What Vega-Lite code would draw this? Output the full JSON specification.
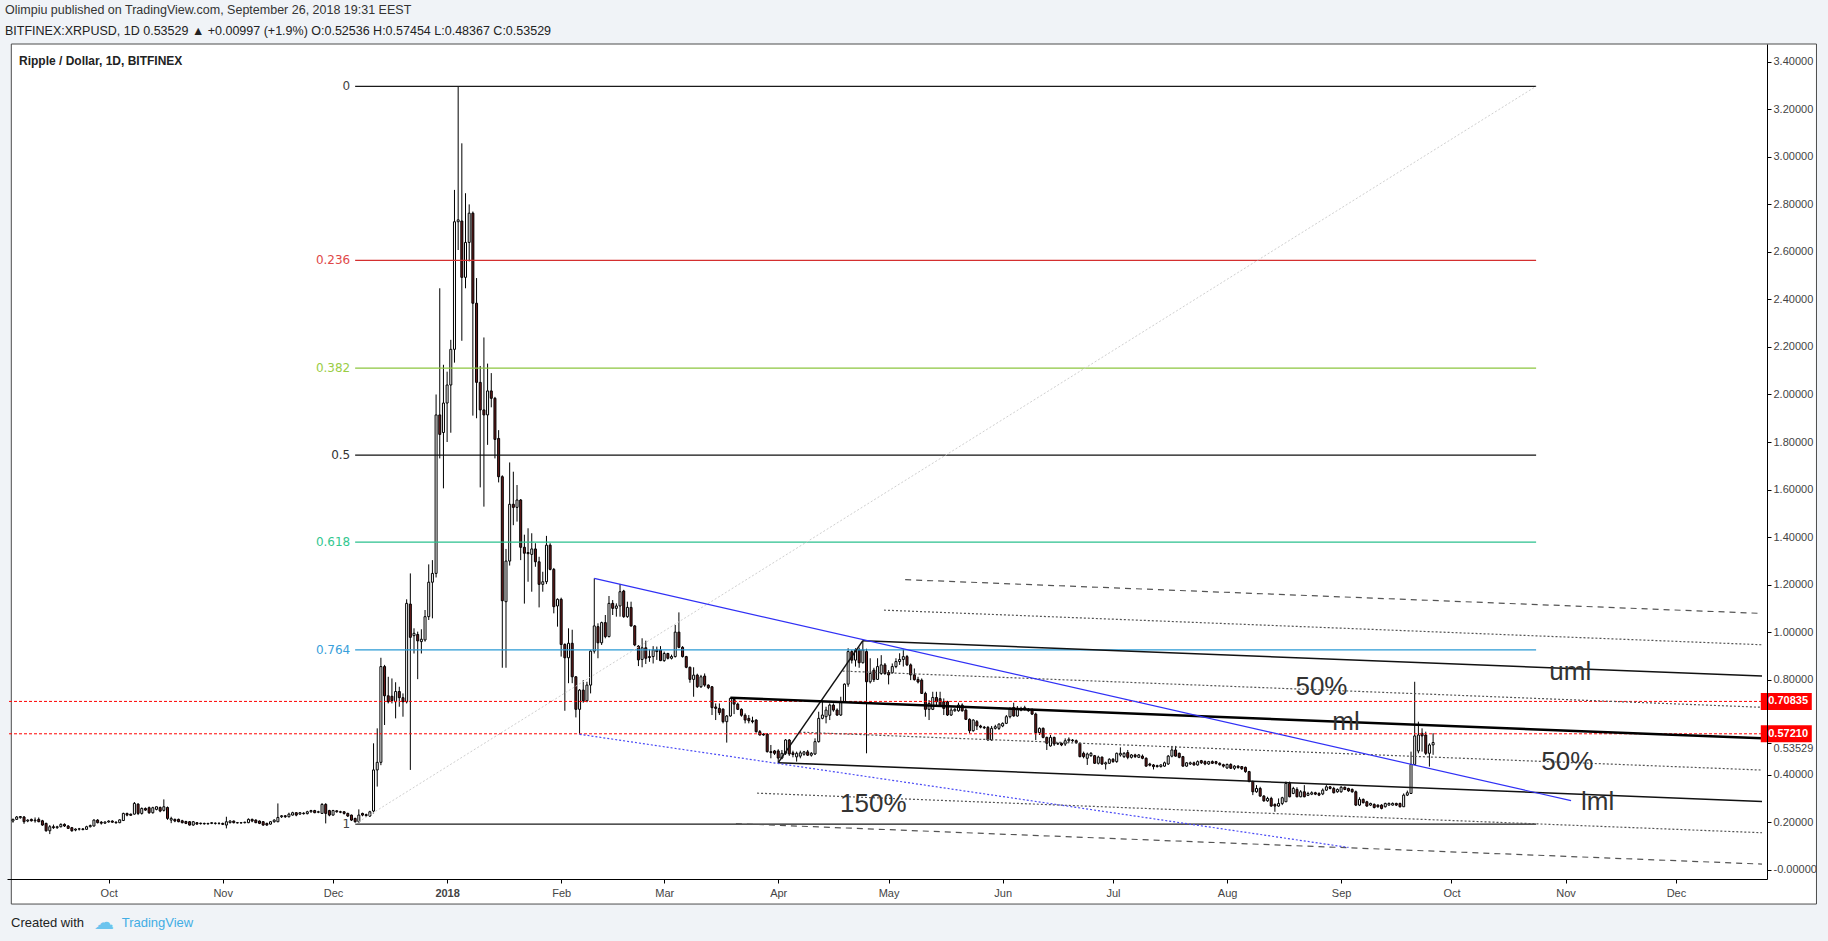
{
  "$schema": "https://vega.github.io/schema/vega-lite/v6.json",
  "width": 1760,
  "height": 835,
  "autosize": {"type": "none"},
  "padding": {"left": 7, "top": 44, "right": 61, "bottom": 62},
  "background": "#f0f3f7",
  "title": {
    "text": "Olimpiu published on TradingView.com, September 26, 2018 19:31 EEST",
    "subtitle": "BITFINEX:XRPUSD, 1D  0.53529 ▲ +0.00997 (+1.9%)  O:0.52536  H:0.57454  L:0.48367  C:0.53529",
    "anchor": "start",
    "frame": "group",
    "offset": 6,
    "dx": -2,
    "font": "Liberation Sans",
    "fontSize": 12.5,
    "fontWeight": "normal",
    "color": "#333333",
    "subtitleFont": "Liberation Sans",
    "subtitleFontSize": 12.5,
    "subtitleColor": "#222222",
    "subtitlePadding": 9
  },
  "datasets": {
    "candles": [
      {"d":"2017-09-05","o":0.205,"h":0.215,"l":0.198,"c":0.212},
      {"d":"2017-09-06","o":0.212,"h":0.226,"l":0.21,"c":0.222},
      {"d":"2017-09-07","o":0.219,"h":0.226,"l":0.215,"c":0.224},
      {"d":"2017-09-08","o":0.222,"h":0.226,"l":0.193,"c":0.202},
      {"d":"2017-09-09","o":0.205,"h":0.212,"l":0.2,"c":0.209},
      {"d":"2017-09-10","o":0.212,"h":0.215,"l":0.203,"c":0.206},
      {"d":"2017-09-11","o":0.206,"h":0.22,"l":0.198,"c":0.209},
      {"d":"2017-09-12","o":0.212,"h":0.22,"l":0.2,"c":0.202},
      {"d":"2017-09-13","o":0.206,"h":0.21,"l":0.185,"c":0.188},
      {"d":"2017-09-14","o":0.195,"h":0.198,"l":0.16,"c":0.164},
      {"d":"2017-09-15","o":0.164,"h":0.188,"l":0.15,"c":0.181},
      {"d":"2017-09-16","o":0.181,"h":0.19,"l":0.172,"c":0.177},
      {"d":"2017-09-17","o":0.177,"h":0.185,"l":0.172,"c":0.181},
      {"d":"2017-09-18","o":0.181,"h":0.195,"l":0.178,"c":0.191},
      {"d":"2017-09-19","o":0.191,"h":0.195,"l":0.18,"c":0.184},
      {"d":"2017-09-20","o":0.184,"h":0.188,"l":0.172,"c":0.174},
      {"d":"2017-09-21","o":0.177,"h":0.18,"l":0.16,"c":0.164},
      {"d":"2017-09-22","o":0.167,"h":0.174,"l":0.162,"c":0.171},
      {"d":"2017-09-23","o":0.171,"h":0.176,"l":0.165,"c":0.172},
      {"d":"2017-09-24","o":0.172,"h":0.175,"l":0.166,"c":0.169},
      {"d":"2017-09-25","o":0.17,"h":0.185,"l":0.168,"c":0.181},
      {"d":"2017-09-26","o":0.181,"h":0.19,"l":0.178,"c":0.186},
      {"d":"2017-09-27","o":0.184,"h":0.212,"l":0.182,"c":0.209},
      {"d":"2017-09-28","o":0.209,"h":0.213,"l":0.195,"c":0.198},
      {"d":"2017-09-29","o":0.2,"h":0.205,"l":0.19,"c":0.196},
      {"d":"2017-09-30","o":0.196,"h":0.203,"l":0.193,"c":0.201},
      {"d":"2017-10-01","o":0.201,"h":0.208,"l":0.198,"c":0.205},
      {"d":"2017-10-02","o":0.205,"h":0.208,"l":0.198,"c":0.2},
      {"d":"2017-10-03","o":0.2,"h":0.204,"l":0.195,"c":0.197},
      {"d":"2017-10-04","o":0.198,"h":0.212,"l":0.196,"c":0.21},
      {"d":"2017-10-05","o":0.207,"h":0.24,"l":0.205,"c":0.237},
      {"d":"2017-10-06","o":0.237,"h":0.24,"l":0.225,"c":0.23},
      {"d":"2017-10-07","o":0.234,"h":0.236,"l":0.228,"c":0.229},
      {"d":"2017-10-08","o":0.234,"h":0.285,"l":0.232,"c":0.279},
      {"d":"2017-10-09","o":0.276,"h":0.28,"l":0.23,"c":0.237},
      {"d":"2017-10-10","o":0.237,"h":0.262,"l":0.232,"c":0.258},
      {"d":"2017-10-11","o":0.258,"h":0.262,"l":0.248,"c":0.251},
      {"d":"2017-10-12","o":0.261,"h":0.266,"l":0.235,"c":0.24},
      {"d":"2017-10-13","o":0.24,"h":0.265,"l":0.236,"c":0.261},
      {"d":"2017-10-14","o":0.254,"h":0.266,"l":0.25,"c":0.265},
      {"d":"2017-10-15","o":0.262,"h":0.266,"l":0.242,"c":0.247},
      {"d":"2017-10-16","o":0.25,"h":0.296,"l":0.245,"c":0.265},
      {"d":"2017-10-17","o":0.262,"h":0.266,"l":0.21,"c":0.216},
      {"d":"2017-10-18","o":0.209,"h":0.223,"l":0.196,"c":0.216},
      {"d":"2017-10-19","o":0.212,"h":0.215,"l":0.2,"c":0.205},
      {"d":"2017-10-20","o":0.212,"h":0.215,"l":0.2,"c":0.202},
      {"d":"2017-10-21","o":0.206,"h":0.21,"l":0.195,"c":0.198},
      {"d":"2017-10-22","o":0.203,"h":0.206,"l":0.192,"c":0.195},
      {"d":"2017-10-23","o":0.202,"h":0.205,"l":0.186,"c":0.188},
      {"d":"2017-10-24","o":0.188,"h":0.205,"l":0.185,"c":0.202},
      {"d":"2017-10-25","o":0.198,"h":0.2,"l":0.19,"c":0.192},
      {"d":"2017-10-26","o":0.196,"h":0.198,"l":0.19,"c":0.194},
      {"d":"2017-10-27","o":0.195,"h":0.198,"l":0.19,"c":0.193},
      {"d":"2017-10-28","o":0.193,"h":0.197,"l":0.19,"c":0.195},
      {"d":"2017-10-29","o":0.195,"h":0.2,"l":0.192,"c":0.198},
      {"d":"2017-10-30","o":0.196,"h":0.199,"l":0.19,"c":0.195},
      {"d":"2017-10-31","o":0.195,"h":0.198,"l":0.19,"c":0.196},
      {"d":"2017-11-01","o":0.195,"h":0.198,"l":0.188,"c":0.191},
      {"d":"2017-11-02","o":0.188,"h":0.223,"l":0.174,"c":0.202},
      {"d":"2017-11-03","o":0.198,"h":0.208,"l":0.195,"c":0.205},
      {"d":"2017-11-04","o":0.205,"h":0.207,"l":0.195,"c":0.198},
      {"d":"2017-11-05","o":0.198,"h":0.201,"l":0.195,"c":0.197},
      {"d":"2017-11-06","o":0.197,"h":0.2,"l":0.194,"c":0.198},
      {"d":"2017-11-07","o":0.198,"h":0.202,"l":0.195,"c":0.2},
      {"d":"2017-11-08","o":0.198,"h":0.216,"l":0.196,"c":0.212},
      {"d":"2017-11-09","o":0.212,"h":0.215,"l":0.2,"c":0.205},
      {"d":"2017-11-10","o":0.209,"h":0.212,"l":0.196,"c":0.198},
      {"d":"2017-11-11","o":0.205,"h":0.207,"l":0.192,"c":0.195},
      {"d":"2017-11-12","o":0.202,"h":0.205,"l":0.185,"c":0.188},
      {"d":"2017-11-13","o":0.195,"h":0.198,"l":0.185,"c":0.188},
      {"d":"2017-11-14","o":0.192,"h":0.204,"l":0.19,"c":0.202},
      {"d":"2017-11-15","o":0.202,"h":0.212,"l":0.198,"c":0.209},
      {"d":"2017-11-16","o":0.202,"h":0.279,"l":0.2,"c":0.22},
      {"d":"2017-11-17","o":0.223,"h":0.23,"l":0.218,"c":0.227},
      {"d":"2017-11-18","o":0.227,"h":0.23,"l":0.218,"c":0.223},
      {"d":"2017-11-19","o":0.223,"h":0.24,"l":0.22,"c":0.234},
      {"d":"2017-11-20","o":0.23,"h":0.244,"l":0.228,"c":0.24},
      {"d":"2017-11-21","o":0.24,"h":0.242,"l":0.225,"c":0.23},
      {"d":"2017-11-22","o":0.234,"h":0.242,"l":0.232,"c":0.24},
      {"d":"2017-11-23","o":0.238,"h":0.242,"l":0.232,"c":0.236},
      {"d":"2017-11-24","o":0.236,"h":0.248,"l":0.233,"c":0.244},
      {"d":"2017-11-25","o":0.244,"h":0.252,"l":0.24,"c":0.249},
      {"d":"2017-11-26","o":0.249,"h":0.252,"l":0.238,"c":0.24},
      {"d":"2017-11-27","o":0.242,"h":0.248,"l":0.238,"c":0.244},
      {"d":"2017-11-28","o":0.237,"h":0.28,"l":0.235,"c":0.275},
      {"d":"2017-11-29","o":0.275,"h":0.28,"l":0.195,"c":0.237},
      {"d":"2017-11-30","o":0.249,"h":0.252,"l":0.225,"c":0.23},
      {"d":"2017-12-01","o":0.23,"h":0.252,"l":0.228,"c":0.249},
      {"d":"2017-12-02","o":0.248,"h":0.25,"l":0.24,"c":0.244},
      {"d":"2017-12-03","o":0.244,"h":0.248,"l":0.238,"c":0.242},
      {"d":"2017-12-04","o":0.244,"h":0.246,"l":0.232,"c":0.237},
      {"d":"2017-12-05","o":0.237,"h":0.24,"l":0.222,"c":0.226},
      {"d":"2017-12-06","o":0.23,"h":0.232,"l":0.205,"c":0.209},
      {"d":"2017-12-07","o":0.216,"h":0.219,"l":0.198,"c":0.202},
      {"d":"2017-12-08","o":0.202,"h":0.254,"l":0.198,"c":0.23},
      {"d":"2017-12-09","o":0.237,"h":0.24,"l":0.225,"c":0.23},
      {"d":"2017-12-10","o":0.232,"h":0.236,"l":0.222,"c":0.228},
      {"d":"2017-12-11","o":0.226,"h":0.248,"l":0.222,"c":0.244},
      {"d":"2017-12-12","o":0.247,"h":0.532,"l":0.237,"c":0.42},
      {"d":"2017-12-13","o":0.42,"h":0.595,"l":0.35,"c":0.452},
      {"d":"2017-12-14","o":0.452,"h":0.892,"l":0.44,"c":0.855},
      {"d":"2017-12-15","o":0.855,"h":0.862,"l":0.609,"c":0.732},
      {"d":"2017-12-16","o":0.732,"h":0.812,"l":0.7,"c":0.707},
      {"d":"2017-12-17","o":0.73,"h":0.805,"l":0.7,"c":0.712},
      {"d":"2017-12-18","o":0.707,"h":0.789,"l":0.637,"c":0.75},
      {"d":"2017-12-19","o":0.75,"h":0.77,"l":0.686,"c":0.724},
      {"d":"2017-12-20","o":0.724,"h":0.742,"l":0.644,"c":0.707},
      {"d":"2017-12-21","o":0.707,"h":1.138,"l":0.7,"c":1.121},
      {"d":"2017-12-22","o":1.118,"h":1.247,"l":0.42,"c":0.978},
      {"d":"2017-12-23","o":0.985,"h":1.016,"l":0.91,"c":0.995},
      {"d":"2017-12-24","o":0.99,"h":1.002,"l":0.802,"c":0.963},
      {"d":"2017-12-25","o":0.96,"h":1.012,"l":0.91,"c":0.97},
      {"d":"2017-12-26","o":0.967,"h":1.093,"l":0.96,"c":1.065},
      {"d":"2017-12-27","o":1.065,"h":1.285,"l":1.051,"c":1.21},
      {"d":"2017-12-28","o":1.21,"h":1.303,"l":1.058,"c":1.247},
      {"d":"2017-12-29","o":1.247,"h":2.0,"l":1.23,"c":1.914},
      {"d":"2017-12-30","o":1.914,"h":2.447,"l":1.731,"c":1.832},
      {"d":"2017-12-31","o":1.84,"h":2.125,"l":1.605,"c":1.964},
      {"d":"2018-01-01","o":1.964,"h":2.096,"l":1.8,"c":2.04},
      {"d":"2018-01-02","o":2.04,"h":2.23,"l":1.839,"c":2.19},
      {"d":"2018-01-03","o":2.19,"h":2.861,"l":2.134,"c":2.727},
      {"d":"2018-01-04","o":2.727,"h":3.297,"l":2.608,"c":2.735},
      {"d":"2018-01-05","o":2.73,"h":3.057,"l":2.226,"c":2.493},
      {"d":"2018-01-06","o":2.493,"h":2.847,"l":2.447,"c":2.64},
      {"d":"2018-01-07","o":2.64,"h":2.8,"l":2.56,"c":2.763},
      {"d":"2018-01-08","o":2.763,"h":2.77,"l":1.911,"c":2.384},
      {"d":"2018-01-09","o":2.384,"h":2.49,"l":1.9,"c":2.051},
      {"d":"2018-01-10","o":2.051,"h":2.12,"l":1.609,"c":1.935},
      {"d":"2018-01-11","o":1.935,"h":2.24,"l":1.528,"c":1.914},
      {"d":"2018-01-12","o":1.914,"h":2.13,"l":1.788,"c":2.015},
      {"d":"2018-01-13","o":2.015,"h":2.09,"l":1.946,"c":1.984},
      {"d":"2018-01-14","o":1.984,"h":1.99,"l":1.731,"c":1.811},
      {"d":"2018-01-15","o":1.815,"h":1.85,"l":1.63,"c":1.654},
      {"d":"2018-01-16","o":1.654,"h":1.66,"l":0.85,"c":1.132},
      {"d":"2018-01-17","o":1.128,"h":1.35,"l":0.85,"c":1.299},
      {"d":"2018-01-18","o":1.299,"h":1.714,"l":1.28,"c":1.538},
      {"d":"2018-01-19","o":1.538,"h":1.675,"l":1.45,"c":1.525},
      {"d":"2018-01-20","o":1.525,"h":1.619,"l":1.465,"c":1.556},
      {"d":"2018-01-21","o":1.556,"h":1.56,"l":1.303,"c":1.357},
      {"d":"2018-01-22","o":1.357,"h":1.41,"l":1.12,"c":1.332},
      {"d":"2018-01-23","o":1.335,"h":1.437,"l":1.212,"c":1.33},
      {"d":"2018-01-24","o":1.327,"h":1.416,"l":1.17,"c":1.35},
      {"d":"2018-01-25","o":1.35,"h":1.374,"l":1.275,"c":1.296},
      {"d":"2018-01-26","o":1.296,"h":1.317,"l":1.104,"c":1.201},
      {"d":"2018-01-27","o":1.201,"h":1.254,"l":1.17,"c":1.212},
      {"d":"2018-01-28","o":1.212,"h":1.405,"l":1.202,"c":1.366},
      {"d":"2018-01-29","o":1.366,"h":1.374,"l":1.26,"c":1.264},
      {"d":"2018-01-30","o":1.264,"h":1.27,"l":1.079,"c":1.107},
      {"d":"2018-01-31","o":1.11,"h":1.142,"l":1.023,"c":1.138},
      {"d":"2018-02-01","o":1.138,"h":1.145,"l":0.897,"c":0.948},
      {"d":"2018-02-02","o":0.948,"h":0.953,"l":0.669,"c":0.892},
      {"d":"2018-02-03","o":0.892,"h":1.016,"l":0.785,"c":0.953},
      {"d":"2018-02-04","o":0.953,"h":1.01,"l":0.785,"c":0.812},
      {"d":"2018-02-05","o":0.812,"h":0.815,"l":0.641,"c":0.675},
      {"d":"2018-02-06","o":0.675,"h":0.76,"l":0.57,"c":0.756},
      {"d":"2018-02-07","o":0.756,"h":0.798,"l":0.703,"c":0.711},
      {"d":"2018-02-08","o":0.711,"h":0.791,"l":0.705,"c":0.777},
      {"d":"2018-02-09","o":0.777,"h":0.924,"l":0.742,"c":0.92},
      {"d":"2018-02-10","o":0.92,"h":1.226,"l":0.91,"c":1.026},
      {"d":"2018-02-11","o":1.023,"h":1.037,"l":0.89,"c":0.955},
      {"d":"2018-02-12","o":0.955,"h":1.044,"l":0.946,"c":1.04},
      {"d":"2018-02-13","o":1.04,"h":1.072,"l":0.974,"c":0.981},
      {"d":"2018-02-14","o":0.981,"h":1.152,"l":0.978,"c":1.121},
      {"d":"2018-02-15","o":1.121,"h":1.135,"l":1.072,"c":1.1},
      {"d":"2018-02-16","o":1.1,"h":1.121,"l":1.065,"c":1.11},
      {"d":"2018-02-17","o":1.11,"h":1.2025,"l":1.065,"c":1.17},
      {"d":"2018-02-18","o":1.173,"h":1.178,"l":1.06,"c":1.065},
      {"d":"2018-02-19","o":1.065,"h":1.128,"l":1.06,"c":1.104},
      {"d":"2018-02-20","o":1.104,"h":1.128,"l":1.023,"c":1.026},
      {"d":"2018-02-21","o":1.026,"h":1.03,"l":0.941,"c":0.946},
      {"d":"2018-02-22","o":0.941,"h":0.945,"l":0.857,"c":0.883},
      {"d":"2018-02-23","o":0.885,"h":0.974,"l":0.852,"c":0.934},
      {"d":"2018-02-24","o":0.934,"h":0.964,"l":0.866,"c":0.89},
      {"d":"2018-02-25","o":0.897,"h":0.927,"l":0.875,"c":0.893},
      {"d":"2018-02-26","o":0.897,"h":0.941,"l":0.868,"c":0.925},
      {"d":"2018-02-27","o":0.925,"h":0.939,"l":0.883,"c":0.918},
      {"d":"2018-02-28","o":0.925,"h":0.941,"l":0.878,"c":0.88},
      {"d":"2018-03-01","o":0.88,"h":0.918,"l":0.875,"c":0.91},
      {"d":"2018-03-02","o":0.91,"h":0.913,"l":0.885,"c":0.89},
      {"d":"2018-03-03","o":0.89,"h":0.905,"l":0.885,"c":0.897},
      {"d":"2018-03-04","o":0.897,"h":1.03,"l":0.893,"c":1.0},
      {"d":"2018-03-05","o":1.0,"h":1.083,"l":0.932,"c":0.936},
      {"d":"2018-03-06","o":0.936,"h":0.941,"l":0.893,"c":0.897},
      {"d":"2018-03-07","o":0.897,"h":0.9,"l":0.848,"c":0.852},
      {"d":"2018-03-08","o":0.852,"h":0.855,"l":0.787,"c":0.801},
      {"d":"2018-03-09","o":0.801,"h":0.852,"l":0.728,"c":0.819},
      {"d":"2018-03-10","o":0.819,"h":0.825,"l":0.765,"c":0.77},
      {"d":"2018-03-11","o":0.77,"h":0.82,"l":0.765,"c":0.812},
      {"d":"2018-03-12","o":0.815,"h":0.826,"l":0.77,"c":0.777},
      {"d":"2018-03-13","o":0.777,"h":0.78,"l":0.76,"c":0.766},
      {"d":"2018-03-14","o":0.77,"h":0.773,"l":0.651,"c":0.682},
      {"d":"2018-03-15","o":0.685,"h":0.7,"l":0.63,"c":0.679},
      {"d":"2018-03-16","o":0.679,"h":0.7,"l":0.651,"c":0.661},
      {"d":"2018-03-17","o":0.676,"h":0.679,"l":0.616,"c":0.623},
      {"d":"2018-03-18","o":0.623,"h":0.651,"l":0.535,"c":0.647},
      {"d":"2018-03-19","o":0.647,"h":0.725,"l":0.644,"c":0.721},
      {"d":"2018-03-20","o":0.717,"h":0.725,"l":0.655,"c":0.697},
      {"d":"2018-03-21","o":0.697,"h":0.703,"l":0.672,"c":0.675},
      {"d":"2018-03-22","o":0.675,"h":0.679,"l":0.644,"c":0.65},
      {"d":"2018-03-23","o":0.65,"h":0.658,"l":0.616,"c":0.63},
      {"d":"2018-03-24","o":0.637,"h":0.651,"l":0.616,"c":0.627},
      {"d":"2018-03-25","o":0.627,"h":0.644,"l":0.616,"c":0.623},
      {"d":"2018-03-26","o":0.63,"h":0.633,"l":0.577,"c":0.581},
      {"d":"2018-03-27","o":0.581,"h":0.588,"l":0.565,"c":0.567},
      {"d":"2018-03-28","o":0.571,"h":0.574,"l":0.564,"c":0.567},
      {"d":"2018-03-29","o":0.571,"h":0.574,"l":0.493,"c":0.497},
      {"d":"2018-03-30","o":0.497,"h":0.525,"l":0.469,"c":0.493},
      {"d":"2018-03-31","o":0.5,"h":0.504,"l":0.483,"c":0.49},
      {"d":"2018-04-01","o":0.5,"h":0.507,"l":0.45,"c":0.47},
      {"d":"2018-04-02","o":0.47,"h":0.504,"l":0.465,"c":0.49},
      {"d":"2018-04-03","o":0.49,"h":0.55,"l":0.483,"c":0.546},
      {"d":"2018-04-04","o":0.546,"h":0.55,"l":0.479,"c":0.487},
      {"d":"2018-04-05","o":0.492,"h":0.501,"l":0.473,"c":0.485},
      {"d":"2018-04-06","o":0.475,"h":0.497,"l":0.455,"c":0.49},
      {"d":"2018-04-07","o":0.478,"h":0.501,"l":0.469,"c":0.492},
      {"d":"2018-04-08","o":0.486,"h":0.5,"l":0.48,"c":0.496},
      {"d":"2018-04-09","o":0.496,"h":0.504,"l":0.479,"c":0.482},
      {"d":"2018-04-10","o":0.482,"h":0.495,"l":0.476,"c":0.49},
      {"d":"2018-04-11","o":0.487,"h":0.553,"l":0.483,"c":0.539},
      {"d":"2018-04-12","o":0.539,"h":0.665,"l":0.535,"c":0.637},
      {"d":"2018-04-13","o":0.637,"h":0.707,"l":0.633,"c":0.651},
      {"d":"2018-04-14","o":0.644,"h":0.686,"l":0.616,"c":0.672},
      {"d":"2018-04-15","o":0.65,"h":0.7,"l":0.63,"c":0.693},
      {"d":"2018-04-16","o":0.693,"h":0.7,"l":0.665,"c":0.672},
      {"d":"2018-04-17","o":0.672,"h":0.679,"l":0.647,"c":0.651},
      {"d":"2018-04-18","o":0.651,"h":0.728,"l":0.647,"c":0.707},
      {"d":"2018-04-19","o":0.707,"h":0.784,"l":0.703,"c":0.781},
      {"d":"2018-04-20","o":0.781,"h":0.932,"l":0.77,"c":0.918},
      {"d":"2018-04-21","o":0.918,"h":0.925,"l":0.868,"c":0.882},
      {"d":"2018-04-22","o":0.882,"h":0.932,"l":0.855,"c":0.925},
      {"d":"2018-04-23","o":0.925,"h":0.935,"l":0.85,"c":0.871},
      {"d":"2018-04-24","o":0.871,"h":0.964,"l":0.868,"c":0.925},
      {"d":"2018-04-25","o":0.918,"h":0.93,"l":0.49,"c":0.791},
      {"d":"2018-04-26","o":0.791,"h":0.89,"l":0.784,"c":0.826},
      {"d":"2018-04-27","o":0.84,"h":0.85,"l":0.79,"c":0.8},
      {"d":"2018-04-28","o":0.801,"h":0.89,"l":0.8,"c":0.855},
      {"d":"2018-04-29","o":0.826,"h":0.903,"l":0.82,"c":0.862},
      {"d":"2018-04-30","o":0.862,"h":0.87,"l":0.82,"c":0.826},
      {"d":"2018-05-01","o":0.83,"h":0.84,"l":0.78,"c":0.82},
      {"d":"2018-05-02","o":0.829,"h":0.868,"l":0.826,"c":0.855},
      {"d":"2018-05-03","o":0.855,"h":0.89,"l":0.848,"c":0.876},
      {"d":"2018-05-04","o":0.876,"h":0.911,"l":0.862,"c":0.885},
      {"d":"2018-05-05","o":0.885,"h":0.927,"l":0.855,"c":0.897},
      {"d":"2018-05-06","o":0.897,"h":0.904,"l":0.857,"c":0.862},
      {"d":"2018-05-07","o":0.862,"h":0.868,"l":0.798,"c":0.82},
      {"d":"2018-05-08","o":0.82,"h":0.847,"l":0.796,"c":0.8},
      {"d":"2018-05-09","o":0.801,"h":0.812,"l":0.784,"c":0.79},
      {"d":"2018-05-10","o":0.798,"h":0.805,"l":0.74,"c":0.742},
      {"d":"2018-05-11","o":0.742,"h":0.749,"l":0.644,"c":0.675},
      {"d":"2018-05-12","o":0.675,"h":0.714,"l":0.63,"c":0.7},
      {"d":"2018-05-13","o":0.675,"h":0.749,"l":0.672,"c":0.725},
      {"d":"2018-05-14","o":0.725,"h":0.749,"l":0.693,"c":0.707},
      {"d":"2018-05-15","o":0.72,"h":0.749,"l":0.689,"c":0.69},
      {"d":"2018-05-16","o":0.707,"h":0.721,"l":0.651,"c":0.679},
      {"d":"2018-05-17","o":0.707,"h":0.711,"l":0.647,"c":0.651},
      {"d":"2018-05-18","o":0.651,"h":0.683,"l":0.647,"c":0.672},
      {"d":"2018-05-19","o":0.669,"h":0.68,"l":0.665,"c":0.675},
      {"d":"2018-05-20","o":0.669,"h":0.703,"l":0.665,"c":0.693},
      {"d":"2018-05-21","o":0.693,"h":0.7,"l":0.665,"c":0.669},
      {"d":"2018-05-22","o":0.672,"h":0.679,"l":0.63,"c":0.633},
      {"d":"2018-05-23","o":0.633,"h":0.637,"l":0.574,"c":0.585},
      {"d":"2018-05-24","o":0.585,"h":0.633,"l":0.581,"c":0.63},
      {"d":"2018-05-25","o":0.623,"h":0.63,"l":0.588,"c":0.605},
      {"d":"2018-05-26","o":0.605,"h":0.61,"l":0.595,"c":0.6},
      {"d":"2018-05-27","o":0.6,"h":0.605,"l":0.592,"c":0.597},
      {"d":"2018-05-28","o":0.599,"h":0.605,"l":0.543,"c":0.546},
      {"d":"2018-05-29","o":0.546,"h":0.605,"l":0.543,"c":0.595},
      {"d":"2018-05-30","o":0.595,"h":0.61,"l":0.59,"c":0.602},
      {"d":"2018-05-31","o":0.595,"h":0.616,"l":0.588,"c":0.613},
      {"d":"2018-06-01","o":0.605,"h":0.62,"l":0.6,"c":0.616},
      {"d":"2018-06-02","o":0.616,"h":0.651,"l":0.613,"c":0.644},
      {"d":"2018-06-03","o":0.644,"h":0.683,"l":0.637,"c":0.679},
      {"d":"2018-06-04","o":0.683,"h":0.703,"l":0.644,"c":0.647},
      {"d":"2018-06-05","o":0.647,"h":0.689,"l":0.644,"c":0.679},
      {"d":"2018-06-06","o":0.672,"h":0.686,"l":0.667,"c":0.679},
      {"d":"2018-06-07","o":0.675,"h":0.69,"l":0.67,"c":0.682},
      {"d":"2018-06-08","o":0.675,"h":0.68,"l":0.665,"c":0.669},
      {"d":"2018-06-09","o":0.672,"h":0.679,"l":0.651,"c":0.655},
      {"d":"2018-06-10","o":0.655,"h":0.661,"l":0.546,"c":0.577},
      {"d":"2018-06-11","o":0.577,"h":0.599,"l":0.567,"c":0.595},
      {"d":"2018-06-12","o":0.595,"h":0.599,"l":0.553,"c":0.557},
      {"d":"2018-06-13","o":0.557,"h":0.56,"l":0.504,"c":0.532},
      {"d":"2018-06-14","o":0.521,"h":0.567,"l":0.518,"c":0.557},
      {"d":"2018-06-15","o":0.557,"h":0.56,"l":0.521,"c":0.529},
      {"d":"2018-06-16","o":0.529,"h":0.535,"l":0.525,"c":0.532},
      {"d":"2018-06-17","o":0.532,"h":0.535,"l":0.52,"c":0.525},
      {"d":"2018-06-18","o":0.529,"h":0.553,"l":0.521,"c":0.543},
      {"d":"2018-06-19","o":0.543,"h":0.557,"l":0.535,"c":0.549},
      {"d":"2018-06-20","o":0.546,"h":0.55,"l":0.538,"c":0.543},
      {"d":"2018-06-21","o":0.543,"h":0.548,"l":0.53,"c":0.535},
      {"d":"2018-06-22","o":0.532,"h":0.535,"l":0.473,"c":0.476},
      {"d":"2018-06-23","o":0.49,"h":0.497,"l":0.469,"c":0.476},
      {"d":"2018-06-24","o":0.469,"h":0.493,"l":0.441,"c":0.487},
      {"d":"2018-06-25","o":0.48,"h":0.495,"l":0.475,"c":0.49},
      {"d":"2018-06-26","o":0.48,"h":0.483,"l":0.445,"c":0.448},
      {"d":"2018-06-27","o":0.448,"h":0.48,"l":0.443,"c":0.474},
      {"d":"2018-06-28","o":0.474,"h":0.476,"l":0.441,"c":0.445},
      {"d":"2018-06-29","o":0.445,"h":0.455,"l":0.422,"c":0.45},
      {"d":"2018-06-30","o":0.448,"h":0.469,"l":0.445,"c":0.465},
      {"d":"2018-07-01","o":0.465,"h":0.47,"l":0.45,"c":0.455},
      {"d":"2018-07-02","o":0.455,"h":0.493,"l":0.45,"c":0.49},
      {"d":"2018-07-03","o":0.483,"h":0.515,"l":0.476,"c":0.49},
      {"d":"2018-07-04","o":0.476,"h":0.495,"l":0.47,"c":0.49},
      {"d":"2018-07-05","o":0.493,"h":0.504,"l":0.465,"c":0.473},
      {"d":"2018-07-06","o":0.473,"h":0.487,"l":0.468,"c":0.483},
      {"d":"2018-07-07","o":0.483,"h":0.488,"l":0.47,"c":0.476},
      {"d":"2018-07-08","o":0.473,"h":0.487,"l":0.47,"c":0.483},
      {"d":"2018-07-09","o":0.478,"h":0.485,"l":0.465,"c":0.469},
      {"d":"2018-07-10","o":0.469,"h":0.473,"l":0.434,"c":0.436},
      {"d":"2018-07-11","o":0.445,"h":0.45,"l":0.435,"c":0.44},
      {"d":"2018-07-12","o":0.441,"h":0.445,"l":0.422,"c":0.434},
      {"d":"2018-07-13","o":0.438,"h":0.442,"l":0.43,"c":0.434},
      {"d":"2018-07-14","o":0.434,"h":0.444,"l":0.43,"c":0.441},
      {"d":"2018-07-15","o":0.436,"h":0.455,"l":0.433,"c":0.45},
      {"d":"2018-07-16","o":0.445,"h":0.483,"l":0.441,"c":0.478},
      {"d":"2018-07-17","o":0.478,"h":0.521,"l":0.473,"c":0.504},
      {"d":"2018-07-18","o":0.504,"h":0.521,"l":0.476,"c":0.478},
      {"d":"2018-07-19","o":0.49,"h":0.493,"l":0.469,"c":0.473},
      {"d":"2018-07-20","o":0.476,"h":0.479,"l":0.434,"c":0.436},
      {"d":"2018-07-21","o":0.436,"h":0.453,"l":0.433,"c":0.45},
      {"d":"2018-07-22","o":0.445,"h":0.455,"l":0.441,"c":0.45},
      {"d":"2018-07-23","o":0.45,"h":0.455,"l":0.438,"c":0.441},
      {"d":"2018-07-24","o":0.441,"h":0.46,"l":0.438,"c":0.455},
      {"d":"2018-07-25","o":0.459,"h":0.462,"l":0.445,"c":0.45},
      {"d":"2018-07-26","o":0.455,"h":0.46,"l":0.44,"c":0.445},
      {"d":"2018-07-27","o":0.445,"h":0.458,"l":0.441,"c":0.455},
      {"d":"2018-07-28","o":0.455,"h":0.46,"l":0.445,"c":0.448},
      {"d":"2018-07-29","o":0.455,"h":0.458,"l":0.443,"c":0.448},
      {"d":"2018-07-30","o":0.448,"h":0.452,"l":0.438,"c":0.442},
      {"d":"2018-07-31","o":0.442,"h":0.446,"l":0.43,"c":0.436},
      {"d":"2018-08-01","o":0.428,"h":0.447,"l":0.425,"c":0.443},
      {"d":"2018-08-02","o":0.443,"h":0.448,"l":0.424,"c":0.427},
      {"d":"2018-08-03","o":0.427,"h":0.44,"l":0.42,"c":0.436},
      {"d":"2018-08-04","o":0.436,"h":0.44,"l":0.425,"c":0.43},
      {"d":"2018-08-05","o":0.434,"h":0.436,"l":0.42,"c":0.425},
      {"d":"2018-08-06","o":0.431,"h":0.434,"l":0.408,"c":0.413},
      {"d":"2018-08-07","o":0.413,"h":0.416,"l":0.368,"c":0.371},
      {"d":"2018-08-08","o":0.371,"h":0.375,"l":0.314,"c":0.328},
      {"d":"2018-08-09","o":0.328,"h":0.356,"l":0.324,"c":0.342},
      {"d":"2018-08-10","o":0.342,"h":0.349,"l":0.307,"c":0.31},
      {"d":"2018-08-11","o":0.31,"h":0.314,"l":0.286,"c":0.29},
      {"d":"2018-08-12","o":0.29,"h":0.307,"l":0.286,"c":0.3},
      {"d":"2018-08-13","o":0.3,"h":0.307,"l":0.265,"c":0.268},
      {"d":"2018-08-14","o":0.275,"h":0.279,"l":0.244,"c":0.268},
      {"d":"2018-08-15","o":0.268,"h":0.3,"l":0.265,"c":0.279},
      {"d":"2018-08-16","o":0.279,"h":0.307,"l":0.272,"c":0.303},
      {"d":"2018-08-17","o":0.286,"h":0.371,"l":0.286,"c":0.363},
      {"d":"2018-08-18","o":0.363,"h":0.371,"l":0.305,"c":0.307},
      {"d":"2018-08-19","o":0.321,"h":0.349,"l":0.318,"c":0.342},
      {"d":"2018-08-20","o":0.338,"h":0.347,"l":0.305,"c":0.307},
      {"d":"2018-08-21","o":0.307,"h":0.335,"l":0.305,"c":0.328},
      {"d":"2018-08-22","o":0.328,"h":0.356,"l":0.305,"c":0.307},
      {"d":"2018-08-23","o":0.313,"h":0.328,"l":0.31,"c":0.321},
      {"d":"2018-08-24","o":0.318,"h":0.33,"l":0.314,"c":0.324},
      {"d":"2018-08-25","o":0.324,"h":0.328,"l":0.314,"c":0.318},
      {"d":"2018-08-26","o":0.321,"h":0.326,"l":0.31,"c":0.314},
      {"d":"2018-08-27","o":0.319,"h":0.342,"l":0.314,"c":0.335},
      {"d":"2018-08-28","o":0.335,"h":0.356,"l":0.332,"c":0.349},
      {"d":"2018-08-29","o":0.349,"h":0.352,"l":0.338,"c":0.342},
      {"d":"2018-08-30","o":0.342,"h":0.349,"l":0.321,"c":0.324},
      {"d":"2018-08-31","o":0.328,"h":0.342,"l":0.324,"c":0.338},
      {"d":"2018-09-01","o":0.328,"h":0.352,"l":0.324,"c":0.347},
      {"d":"2018-09-02","o":0.347,"h":0.35,"l":0.335,"c":0.338},
      {"d":"2018-09-03","o":0.342,"h":0.345,"l":0.328,"c":0.332},
      {"d":"2018-09-04","o":0.338,"h":0.342,"l":0.324,"c":0.328},
      {"d":"2018-09-05","o":0.328,"h":0.333,"l":0.268,"c":0.272},
      {"d":"2018-09-06","o":0.272,"h":0.305,"l":0.268,"c":0.296},
      {"d":"2018-09-07","o":0.296,"h":0.3,"l":0.279,"c":0.282},
      {"d":"2018-09-08","o":0.286,"h":0.29,"l":0.265,"c":0.268},
      {"d":"2018-09-09","o":0.272,"h":0.282,"l":0.268,"c":0.279},
      {"d":"2018-09-10","o":0.275,"h":0.279,"l":0.258,"c":0.262},
      {"d":"2018-09-11","o":0.272,"h":0.275,"l":0.261,"c":0.265},
      {"d":"2018-09-12","o":0.272,"h":0.276,"l":0.254,"c":0.258},
      {"d":"2018-09-13","o":0.265,"h":0.282,"l":0.262,"c":0.279},
      {"d":"2018-09-14","o":0.272,"h":0.283,"l":0.27,"c":0.279},
      {"d":"2018-09-15","o":0.272,"h":0.283,"l":0.27,"c":0.279},
      {"d":"2018-09-16","o":0.279,"h":0.282,"l":0.268,"c":0.272},
      {"d":"2018-09-17","o":0.279,"h":0.282,"l":0.262,"c":0.265},
      {"d":"2018-09-18","o":0.265,"h":0.321,"l":0.265,"c":0.314},
      {"d":"2018-09-19","o":0.314,"h":0.333,"l":0.31,"c":0.324},
      {"d":"2018-09-20","o":0.321,"h":0.497,"l":0.319,"c":0.443},
      {"d":"2018-09-21","o":0.443,"h":0.791,"l":0.441,"c":0.563},
      {"d":"2018-09-22","o":0.5,"h":0.623,"l":0.49,"c":0.567},
      {"d":"2018-09-23","o":0.574,"h":0.595,"l":0.497,"c":0.563},
      {"d":"2018-09-24","o":0.567,"h":0.581,"l":0.483,"c":0.49},
      {"d":"2018-09-25","o":0.49,"h":0.532,"l":0.434,"c":0.525},
      {"d":"2018-09-26","o":0.52536,"h":0.57454,"l":0.48367,"c":0.53529}
    ],
    "fib": [
      {"lvl":"0","v":3.297},
      {"lvl":"0.236","v":2.5643},
      {"lvl":"0.382","v":2.111},
      {"lvl":"0.5","v":1.7447},
      {"lvl":"0.618","v":1.3784},
      {"lvl":"0.764","v":0.9251},
      {"lvl":"1","v":0.1923}
    ],
    "segs": [
      {"kind":"diag","x1":"2017-12-07","y1":0.1923,"x2":"2018-10-24","y2":3.297},
      {"kind":"pfm","x1":"2018-03-19","y1":0.724,"x2":"2018-12-24T09:36:00Z","y2":0.553},
      {"kind":"pf","x1":"2018-04-24","y1":0.964,"x2":"2018-12-24T09:36:00Z","y2":0.815},
      {"kind":"pf","x1":"2018-04-01","y1":0.4506,"x2":"2018-12-24T09:36:00Z","y2":0.2875},
      {"kind":"pf","x1":"2018-04-01","y1":0.4506,"x2":"2018-04-24","y2":0.964},
      {"kind":"pfdot","x1":"2018-04-18T12:00:00Z","y1":0.836,"x2":"2018-12-24T09:36:00Z","y2":0.6836},
      {"kind":"pfdot","x1":"2018-04-06T18:00:00Z","y1":0.579,"x2":"2018-12-24T09:36:00Z","y2":0.4194},
      {"kind":"pfdot","x1":"2018-04-29T18:00:00Z","y1":1.0924,"x2":"2018-12-24T09:36:00Z","y2":0.9468},
      {"kind":"pfdot","x1":"2018-03-26T06:00:00Z","y1":0.3223,"x2":"2018-12-24T09:36:00Z","y2":0.1557},
      {"kind":"pfdash","x1":"2018-05-05T12:00:00Z","y1":1.2207,"x2":"2018-12-24T09:36:00Z","y2":1.0786},
      {"kind":"pfdash","x1":"2018-03-20T12:00:00Z","y1":0.1939,"x2":"2018-12-24T09:36:00Z","y2":0.0238},
      {"kind":"blue","x1":"2018-02-10","y1":1.226,"x2":"2018-11-02T12:00:00Z","y2":0.2905},
      {"kind":"bluedot","x1":"2018-02-06","y1":0.57,"x2":"2018-09-03","y2":0.0937}
    ],
    "price": [
      {"v":0.70835},
      {"v":0.5721}
    ],
    "notes": [
      {"t":"uml","x":"2018-10-27T14:00:00Z","v":0.831},
      {"t":"ml","x":"2018-08-29T14:00:00Z","v":0.623},
      {"t":"50%","x":"2018-08-19T14:00:00Z","v":0.77},
      {"t":"50%","x":"2018-10-25T10:00:00Z","v":0.452},
      {"t":"lml","x":"2018-11-05T05:00:00Z","v":0.283},
      {"t":"150%","x":"2018-04-17T19:00:00Z","v":0.275}
    ]
  },
  "layer": [
    {
      "data": {"values": [{}]},
      "mark": {"type": "rect", "fill": "#ffffff", "stroke": "#4d4d4d", "strokeWidth": 1},
      "encoding": {
        "x": {"datum": {"year": 2017, "month": 9, "date": 4, "hours": 13, "utc": true}, "type": "temporal", "title": null,
          "scale": {"type": "utc", "domain": [{"year": 2017, "month": 9, "date": 4, "hours": 17, "minutes": 30, "utc": true}, {"year": 2018, "month": 12, "date": 24, "hours": 9, "minutes": 36, "utc": true}]}},
        "x2": {"datum": {"year": 2019, "month": 1, "date": 8, "hours": 5, "utc": true}},
        "y": {"datum": 3.475, "type": "quantitative", "title": null, "scale": {"domain": [-0.039, 3.475], "zero": false, "nice": false}},
        "y2": {"datum": -0.1444}
      }
    },
    {
      "data": {"name": "candles"},
      "mark": {"type": "rule", "color": "#000000", "strokeWidth": 1},
      "encoding": {
        "x": {"field": "d", "type": "temporal", "title": null,
          "axis": {
            "orient": "bottom", "title": null, "grid": false, "zindex": 1,
            "values": [
              {"year": 2017, "month": 10, "date": 1, "utc": true},
              {"year": 2017, "month": 11, "date": 1, "utc": true},
              {"year": 2017, "month": 12, "date": 1, "utc": true},
              {"year": 2018, "month": 1, "date": 1, "utc": true},
              {"year": 2018, "month": 2, "date": 1, "utc": true},
              {"year": 2018, "month": 3, "date": 1, "utc": true},
              {"year": 2018, "month": 4, "date": 1, "utc": true},
              {"year": 2018, "month": 5, "date": 1, "utc": true},
              {"year": 2018, "month": 6, "date": 1, "utc": true},
              {"year": 2018, "month": 7, "date": 1, "utc": true},
              {"year": 2018, "month": 8, "date": 1, "utc": true},
              {"year": 2018, "month": 9, "date": 1, "utc": true},
              {"year": 2018, "month": 10, "date": 1, "utc": true},
              {"year": 2018, "month": 11, "date": 1, "utc": true},
              {"year": 2018, "month": 12, "date": 1, "utc": true}
            ],
            "labelExpr": "utcmonth(datum.value) == 0 ? utcFormat(datum.value, '%Y') : utcFormat(datum.value, '%b')",
            "labelFontWeight": {"condition": {"test": "utcmonth(datum.value) == 0", "value": "bold"}, "value": "normal"},
            "labelFont": "Liberation Sans", "labelFontSize": 11, "labelColor": "#444444",
            "labelPadding": 4, "labelFlush": false, "labelOverlap": false,
            "domainColor": "#000000", "domainWidth": 1, "tickColor": "#000000", "tickSize": 4, "tickWidth": 1
          }
        },
        "y": {"field": "l", "type": "quantitative", "title": null,
          "axis": {
            "orient": "right", "title": null, "grid": false, "zindex": 1,
            "values": [0, 0.2, 0.4, 0.53529, 0.8, 1, 1.2, 1.4, 1.6, 1.8, 2, 2.2, 2.4, 2.6, 2.8, 3, 3.2, 3.4],
            "labelExpr": "datum.value == 0 ? '-0.00000' : format(datum.value, '.5f')",
            "labelBaseline": {"condition": {"test": "datum.value == 0.53529", "value": "top"}, "value": "middle"},
            "labelFont": "Liberation Sans", "labelFontSize": 11, "labelColor": "#444444",
            "labelPadding": 2, "labelFlush": false, "labelOverlap": false,
            "domainColor": "#000000", "domainWidth": 1, "tickColor": "#000000", "tickSize": 4, "tickWidth": 1
          }
        },
        "y2": {"field": "h"}
      }
    },
    {
      "data": {"name": "candles"},
      "mark": {"type": "bar", "size": 2, "stroke": "#000000", "strokeWidth": 1},
      "encoding": {
        "x": {"field": "d", "type": "temporal", "title": null},
        "y": {"field": "o", "type": "quantitative", "title": null},
        "y2": {"field": "c"},
        "fill": {"condition": {"test": "datum.c >= datum.o", "value": "#ffffff"}, "value": "#6b1c1c"}
      }
    },
    {
      "data": {"name": "fib"},
      "mark": {"type": "rule", "strokeWidth": 1.2},
      "encoding": {
        "x": {"datum": {"year": 2017, "month": 12, "date": 7, "utc": true}, "type": "temporal", "title": null},
        "x2": {"datum": {"year": 2018, "month": 10, "date": 24, "utc": true}},
        "y": {"field": "v", "type": "quantitative", "title": null},
        "stroke": {"field": "lvl", "type": "nominal", "legend": null,
          "scale": {"domain": ["0", "0.236", "0.382", "0.5", "0.618", "0.764", "1"],
            "range": ["#1a1a1a", "#d42f2f", "#8cc63f", "#111111", "#2bc08e", "#2b9ad4", "#1a1a1a"]}}
      }
    },
    {
      "data": {"name": "fib"},
      "mark": {"type": "text", "align": "right", "baseline": "middle", "font": "DejaVu Sans", "fontSize": 12},
      "encoding": {
        "x": {"datum": {"year": 2017, "month": 12, "date": 5, "hours": 16, "utc": true}, "type": "temporal", "title": null},
        "y": {"field": "v", "type": "quantitative", "title": null},
        "text": {"field": "lvl"},
        "fill": {"field": "lvl", "type": "nominal", "legend": null,
          "scale": {"domain": ["0", "0.236", "0.382", "0.5", "0.618", "0.764", "1"],
            "range": ["#444444", "#e04848", "#9acd45", "#333333", "#33c78f", "#3a9fdb", "#444444"]}}
      }
    },
    {
      "data": {"name": "segs"},
      "transform": [{"filter": "datum.kind == 'diag'"}],
      "mark": {"type": "rule", "color": "#cfcfcf", "strokeWidth": 1, "strokeDash": [2, 2]},
      "encoding": {
        "x": {"field": "x1", "type": "temporal", "title": null},
        "y": {"field": "y1", "type": "quantitative", "title": null},
        "x2": {"field": "x2"},
        "y2": {"field": "y2"}
      }
    },
    {
      "data": {"name": "price"},
      "mark": {"type": "rule", "color": "#ff0000", "strokeWidth": 1, "strokeDash": [3, 2]},
      "encoding": {
        "y": {"field": "v", "type": "quantitative", "title": null}
      }
    },
    {
      "data": {"name": "segs"},
      "transform": [{"filter": "datum.kind == 'pfdot'"}],
      "mark": {"type": "rule", "color": "#555555", "strokeWidth": 1.2, "strokeDash": [2, 2]},
      "encoding": {
        "x": {"field": "x1", "type": "temporal", "title": null},
        "y": {"field": "y1", "type": "quantitative", "title": null},
        "x2": {"field": "x2"},
        "y2": {"field": "y2"}
      }
    },
    {
      "data": {"name": "segs"},
      "transform": [{"filter": "datum.kind == 'pfdash'"}],
      "mark": {"type": "rule", "color": "#555555", "strokeWidth": 1.2, "strokeDash": [6, 5]},
      "encoding": {
        "x": {"field": "x1", "type": "temporal", "title": null},
        "y": {"field": "y1", "type": "quantitative", "title": null},
        "x2": {"field": "x2"},
        "y2": {"field": "y2"}
      }
    },
    {
      "data": {"name": "segs"},
      "transform": [{"filter": "datum.kind == 'pf'"}],
      "mark": {"type": "rule", "color": "#111111", "strokeWidth": 1.5},
      "encoding": {
        "x": {"field": "x1", "type": "temporal", "title": null},
        "y": {"field": "y1", "type": "quantitative", "title": null},
        "x2": {"field": "x2"},
        "y2": {"field": "y2"}
      }
    },
    {
      "data": {"name": "segs"},
      "transform": [{"filter": "datum.kind == 'pfm'"}],
      "mark": {"type": "rule", "color": "#000000", "strokeWidth": 2.5},
      "encoding": {
        "x": {"field": "x1", "type": "temporal", "title": null},
        "y": {"field": "y1", "type": "quantitative", "title": null},
        "x2": {"field": "x2"},
        "y2": {"field": "y2"}
      }
    },
    {
      "data": {"name": "segs"},
      "transform": [{"filter": "datum.kind == 'blue'"}],
      "mark": {"type": "rule", "color": "#3030f5", "strokeWidth": 1.2},
      "encoding": {
        "x": {"field": "x1", "type": "temporal", "title": null},
        "y": {"field": "y1", "type": "quantitative", "title": null},
        "x2": {"field": "x2"},
        "y2": {"field": "y2"}
      }
    },
    {
      "data": {"name": "segs"},
      "transform": [{"filter": "datum.kind == 'bluedot'"}],
      "mark": {"type": "rule", "color": "#4a4af5", "strokeWidth": 1.2, "strokeDash": [2, 2]},
      "encoding": {
        "x": {"field": "x1", "type": "temporal", "title": null},
        "y": {"field": "y1", "type": "quantitative", "title": null},
        "x2": {"field": "x2"},
        "y2": {"field": "y2"}
      }
    },
    {
      "data": {"name": "notes"},
      "mark": {"type": "text", "align": "left", "baseline": "middle", "font": "Liberation Sans", "fontSize": 26, "color": "#333333"},
      "encoding": {
        "x": {"field": "x", "type": "temporal", "title": null},
        "y": {"field": "v", "type": "quantitative", "title": null},
        "text": {"field": "t"}
      }
    },
    {
      "data": {"name": "price"},
      "mark": {"type": "tick", "orient": "horizontal", "color": "#ff0000", "size": 51, "thickness": 17, "opacity": 1},
      "encoding": {
        "x": {"datum": {"year": 2018, "month": 12, "date": 31, "utc": true}, "type": "temporal", "title": null},
        "y": {"field": "v", "type": "quantitative", "title": null}
      }
    },
    {
      "data": {"name": "price"},
      "mark": {"type": "text", "align": "center", "baseline": "middle", "font": "Liberation Sans", "fontSize": 11, "fontWeight": "bold", "color": "#ffffff"},
      "encoding": {
        "x": {"datum": {"year": 2018, "month": 12, "date": 31, "hours": 12, "utc": true}, "type": "temporal", "title": null},
        "y": {"field": "v", "type": "quantitative", "title": null},
        "text": {"field": "v", "type": "quantitative", "format": ".5f"}
      }
    },
    {
      "data": {"values": [{}]},
      "mark": {"type": "text", "text": "Ripple / Dollar, 1D, BITFINEX", "align": "left", "baseline": "middle", "font": "Liberation Sans", "fontSize": 12, "fontWeight": "bold", "color": "#222222"},
      "encoding": {
        "x": {"datum": {"year": 2017, "month": 9, "date": 6, "hours": 15, "utc": true}, "type": "temporal", "title": null},
        "y": {"datum": 3.405, "type": "quantitative", "title": null}
      }
    },
    {
      "data": {"values": [{}]},
      "mark": {"type": "text", "text": "Created with", "align": "left", "baseline": "middle", "font": "Liberation Sans", "fontSize": 13, "color": "#222222"},
      "encoding": {
        "x": {"datum": {"year": 2017, "month": 9, "date": 4, "hours": 11, "utc": true}, "type": "temporal", "title": null},
        "y": {"datum": -0.2243, "type": "quantitative", "title": null}
      }
    },
    {
      "data": {"values": [{}]},
      "mark": {"type": "text", "text": "☁", "align": "center", "baseline": "middle", "font": "DejaVu Sans", "fontSize": 20, "color": "#6cc4ee"},
      "encoding": {
        "x": {"datum": {"year": 2017, "month": 9, "date": 29, "hours": 17, "utc": true}, "type": "temporal", "title": null},
        "y": {"datum": -0.2243, "type": "quantitative", "title": null}
      }
    },
    {
      "data": {"values": [{}]},
      "mark": {"type": "text", "text": "TradingView", "align": "left", "baseline": "middle", "font": "Liberation Sans", "fontSize": 13, "color": "#42ade4"},
      "encoding": {
        "x": {"datum": {"year": 2017, "month": 10, "date": 4, "hours": 13, "utc": true}, "type": "temporal", "title": null},
        "y": {"datum": -0.2243, "type": "quantitative", "title": null}
      }
    }
  ],
  "config": {
    "view": {"stroke": null}
  }
}
